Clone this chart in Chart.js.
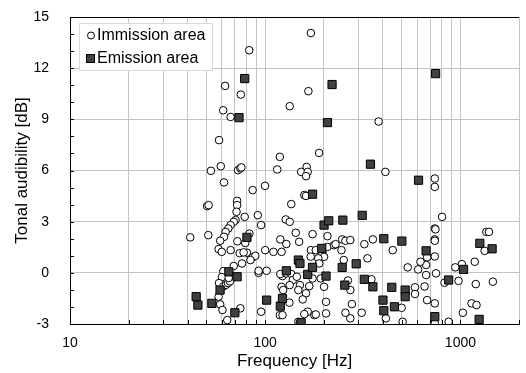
<!DOCTYPE html>
<html>
<head>
<meta charset="utf-8">
<script src="https://cdn.jsdelivr.net/npm/chart.js@4.4.1/dist/chart.umd.min.js"></script>
<style>
  html, body { margin: 0; padding: 0; background: #fff; }
  #wrap { width: 526px; height: 373px; }
</style>
</head>
<body>
<div id="wrap"><canvas id="chart" width="526" height="373"></canvas></div>
<script>
// dati (frequenza in Hz, udibilità tonale in dB)
const immissionFreq = [
  41.3, 50.4, 51.3, 51.1, 52.7, 58.0, 59.2, 61.5, 62.3, 60.9, 66.5, 75.0, 82.8, 72.5, 74.6, 75.5,
  86.2, 99.8, 71.8, 71.8, 71.3, 70.5, 69.0, 78.5, 91.6, 95.3, 66.5, 64.7, 62.7, 61.5, 58.8, 57.7,
  59.9, 66.5, 72.0, 74.0, 80.6, 77.5, 83.0, 79.0, 86.0, 89.0, 84.0, 76.0, 69.0, 61.0, 60.0, 58.0,
  61.0, 63.0, 64.5, 66.0, 65.0, 92.5, 92.5, 101.7, 57.7, 58.8, 60.4, 63.9, 74.6, 95.3,
  118.8, 115.2, 152.8, 163, 165, 161.8, 188.8, 158.6, 161.8, 136, 127.4, 133.5, 143.4, 149.2, 119.5, 128.3,
  110.2, 121.3, 100.0, 174.8, 208.4, 171.4, 181.6, 196.4, 200.2, 208.4, 224.9, 229.3, 247.9, 257.6, 245.8, 252.5,
  122.6, 119.5, 128.3, 136, 138.6, 133.5, 145.1, 150.6, 147.8, 121.3, 123.6, 161.8, 155.6, 168.1, 174.7, 192.5,
  200.2, 204.9, 204.9, 165, 178.5, 181.6, 257.6, 272.8, 118.8, 122.6, 147.8, 150.6, 158.6, 171, 187, 189,
  133, 265, 273, 278, 312, 272.8, 322, 356, 450, 334, 412.6, 739, 739, 739, 745, 739,
  739, 739, 750, 739, 739, 675, 667, 624, 607, 537, 585, 585, 500, 667, 655, 675,
  350, 415, 506, 805, 1357, 1400, 1330, 1184, 1017, 941, 978, 829, 1198, 1466, 1140, 1209,
  1029, 870, 171.4, 166.4, 133.5, 381
];
const immissionDb = [
  2.08, 3.91, 3.97, 2.21, 5.98, 7.78, 6.25, 5.30, 10.96, 9.53, 9.14, 10.45, 13.05, 6.02, 6.12, 6.18,
  4.85, 5.10, 4.22, 3.97, 3.58, 3.09, 2.99, 3.28, 3.38, 2.80, 2.80, 2.60, 2.40, 2.11, 1.88, 1.39,
  1.23, 1.33, 1.85, 1.15, 1.18, 1.20, 2.30, 1.75, 0.90, 1.00, 0.75, 0.55, 0.40, 0.10, -0.25, -0.60,
  -0.80, -0.70, -0.60, -0.50, -0.30, 0.00, 0.12, 0.12, -1.40, -1.85, -2.18, -2.77, -2.08, -2.28,
  6.80, 6.06, 5.92, 6.21, 5.92, 5.67, 7.03, 4.56, 4.51, 4.03, 3.13, 2.99, 2.35, 1.82, 1.96, 1.69,
  1.23, 1.23, 1.33, 2.27, 2.15, 1.33, 1.33, 1.14, 0.94, 1.52, 1.62, 1.68, 1.96, 1.88, 1.33, 0.75,
  -0.19, -0.07, -0.03, -0.07, -0.42, -0.72, -0.23, -0.72, -1.01, -0.82, -1.01, -1.20, -1.56, -0.78, -0.33, -0.33,
  -0.82, -1.70, -2.38, -2.28, -2.48, -2.44, -2.34, -2.67, -2.48, -2.48, -2.87, -2.93, -2.42, 0.95, 0.85, 0.55,
  -1.75, -0.45, -1.01, -1.83, -2.34, 1.92, 1.68, 1.96, 1.33, 0.85, 5.92, 5.53, 5.04, 2.60, 2.55, 1.96,
  1.88, 0.96, -0.03, -1.79, -2.96, 0.91, 0.46, 0.65, 0.20, 0.32, -0.85, -1.24, -2.05, -0.13, -0.80, -1.60,
  -0.38, -2.67, -2.87, 3.28, 2.40, 2.40, 1.29, 0.65, 0.51, 0.32, -0.47, -0.58, -0.66, -0.52, -1.79, -1.89,
  -2.34, -2.87, 14.06, 10.65, 9.77, 8.87
];
const emissionFreq = [
  44.3, 45.2, 53.3, 58.7, 65.1, 71.8, 69.9, 80.6, 73.4, 78.5, 101.7, 119.5, 122.6, 128.3, 147.8, 150.6,
  152.8, 165, 174.7, 174.8, 194.8, 200.2, 211.5, 204.9, 208.4, 220, 247.9, 249.8, 255.6, 292.5, 314, 322,
  346, 356, 401, 405, 405, 445, 459, 501, 521, 521, 610, 667, 739, 746, 870, 1037, 1247, 1257, 1453
];
const emissionDb = [
  -1.40, -1.89, -1.79, -1.01, 0.06, -0.23, -2.34, 2.08, 9.10, 11.39, -1.60, -1.95, -1.50, 0.12, 0.75, 0.55,
  -2.93, -0.09, 0.32, 4.61, 1.43, 2.80, 3.05, -0.19, 8.81, 11.04, 0.32, 3.09, -0.72, 0.53, 3.37, -0.38,
  6.37, -0.82, -1.60, -2.22, 2.00, -0.85, -1.99, 1.86, -1.01, -1.40, 5.43, 1.29, -2.57, 11.68, -0.42, 0.20, -2.73, 1.73, 1.41
];

// assi
const xGridValues = [10, 20, 30, 40, 50, 60, 70, 80, 90, 100, 200, 300, 400, 500, 600, 700, 800, 900, 1000, 2000];
const xLabelValues = [10, 100, 1000];
const yMin = -3, yMax = 15, yStep = 3;

const FONT = '"Liberation Sans", Arial, sans-serif';
Chart.defaults.font.family = FONT;
Chart.defaults.color = '#000';

const toPoints = (xs, ys) => xs.map((x, i) => ({ x: x, y: ys[i] }));

// cornice superiore + tacche interne
const framePlugin = {
  id: 'frame',
  afterDatasetsDraw(chart) {
    const { ctx, chartArea: a, scales } = chart;
    ctx.save();
    ctx.strokeStyle = '#000';
    ctx.lineWidth = 1;
    ctx.beginPath();
    ctx.moveTo(a.left, a.top + 0.5);
    ctx.lineTo(a.right, a.top + 0.5);
    for (let v = yMin; v <= yMax; v++) {
      const y = Math.round(scales.y.getPixelForValue(v)) + 0.5;
      ctx.moveTo(a.left, y);
      ctx.lineTo(a.left + 4, y);
    }
    xGridValues.forEach(v => {
      const x = Math.round(scales.x.getPixelForValue(v)) + 0.5;
      ctx.moveTo(x, a.bottom);
      ctx.lineTo(x, a.bottom - 4);
    });
    ctx.stroke();
    ctx.restore();
  }
};

// legenda dentro l'area del grafico
const legendPlugin = {
  id: 'insideLegend',
  afterDatasetsDraw(chart) {
    const { ctx, chartArea: a } = chart;
    const x0 = a.left + 9, y0 = a.top + 6, w = 133, h = 47;
    ctx.save();
    ctx.fillStyle = '#fff';
    ctx.fillRect(x0, y0, w, h);
    ctx.strokeStyle = '#d9d9d9';
    ctx.lineWidth = 1;
    ctx.strokeRect(x0 + 0.5, y0 + 0.5, w, h);

    ctx.strokeStyle = '#000';
    ctx.beginPath();
    ctx.arc(x0 + 12, y0 + 12.5, 3.5, 0, Math.PI * 2);
    ctx.fillStyle = '#fff';
    ctx.fill();
    ctx.stroke();

    ctx.fillStyle = '#404040';
    ctx.fillRect(x0 + 7.5, y0 + 31.5, 8, 8);
    ctx.strokeRect(x0 + 7.5, y0 + 31.5, 8, 8);

    ctx.fillStyle = '#000';
    ctx.font = '16px ' + FONT;
    ctx.textBaseline = 'middle';
    ctx.fillText('Immission area', x0 + 18, y0 + 13);
    ctx.fillText('Emission area', x0 + 18, y0 + 36);
    ctx.restore();
  }
};

new Chart(document.getElementById('chart'), {
  type: 'scatter',
  data: {
    datasets: [
      {
        label: 'Immission area',
        data: toPoints(immissionFreq, immissionDb),
        pointStyle: 'circle',
        pointRadius: 3.8,
        backgroundColor: '#fff',
        borderColor: '#000',
        borderWidth: 1,
        order: 1
      },
      {
        label: 'Emission area',
        data: toPoints(emissionFreq, emissionDb),
        pointStyle: 'rect',
        pointRadius: 5.8,
        backgroundColor: '#404040',
        borderColor: '#000',
        borderWidth: 1,
        order: 0
      }
    ]
  },
  options: {
    responsive: false,
    animation: false,
    layout: { padding: { left: 0, right: 0, top: 17, bottom: 0 } },
    plugins: { legend: { display: false }, tooltip: { enabled: false } },
    scales: {
      x: {
        type: 'logarithmic',
        min: 10,
        max: 2000,
        afterBuildTicks: s => { s.ticks = xGridValues.map(v => ({ value: v })); },
        afterFit: s => { s.height = 49; s.paddingLeft = 0; s.paddingRight = 0; },
        ticks: {
          autoSkip: false,
          maxRotation: 0,
          padding: 11,
          color: '#000',
          font: { size: 14 },
          callback: v => xLabelValues.includes(v) ? String(v) : ''
        },
        grid: { color: '#c4c4c4', lineWidth: 1, drawTicks: false },
        border: { color: '#000', width: 1 },
        title: {
          display: true,
          text: 'Frequency [Hz]',
          color: '#000',
          font: { size: 17 },
          padding: { top: 0, bottom: 1 }
        }
      },
      y: {
        min: yMin,
        max: yMax,
        // la padding delle etichette non deve spostare l'area del grafico
        afterFit: s => { s.width = 70; s.paddingTop = 0; s.paddingBottom = 0; },
        ticks: { stepSize: yStep, padding: 21, color: '#000', font: { size: 14 } },
        grid: { color: '#c4c4c4', lineWidth: 1, drawTicks: false },
        border: { color: '#000', width: 1 },
        title: {
          display: true,
          text: 'Tonal audibility [dB]',
          color: '#000',
          font: { size: 17 },
          padding: { top: 12, bottom: 0 }
        }
      }
    }
  },
  plugins: [framePlugin, legendPlugin]
});
</script>
</body>
</html>
